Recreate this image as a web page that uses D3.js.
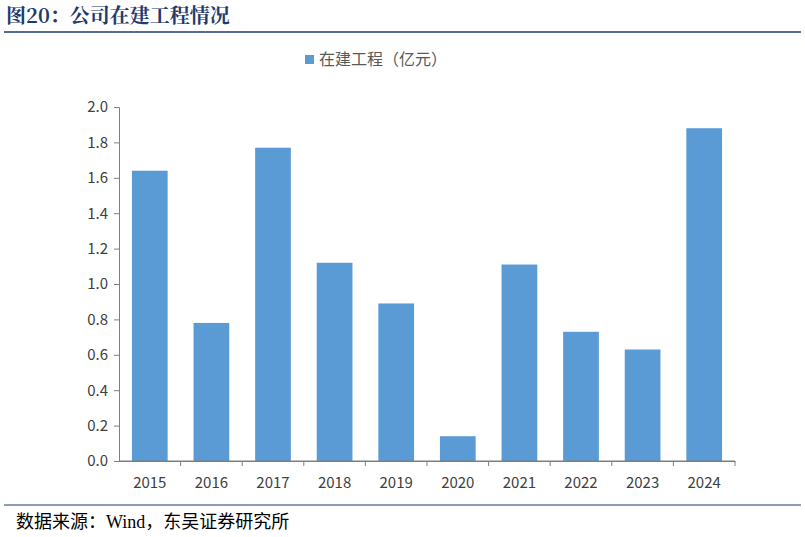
<!DOCTYPE html>
<html><head><meta charset="utf-8">
<script src="https://cdn.jsdelivr.net/npm/d3@7"></script>
<style>body{margin:0;background:#fff}</style>
</head><body>
<svg id="chart" width="805" height="537"></svg>
<script>
// data
var years = ["2015", "2016", "2017", "2018", "2019", "2020", "2021", "2022", "2023", "2024"];
var values = [1.64, 0.78, 1.77, 1.12, 0.89, 0.14, 1.11, 0.73, 0.63, 1.88];
var yTicks = [0, 0.2, 0.4, 0.6, 0.8, 1.0, 1.2, 1.4, 1.6, 1.8, 2.0];

var svg = d3.select("#chart");
var barColor = "#5b9bd5";
var font = "'Noto Sans CJK SC', 'Noto Sans', sans-serif";

// header and footer
svg.append("text").attr("x", 6).attr("y", 23)
    .attr("font-family", "'Noto Serif CJK SC', 'Noto Sans CJK SC', serif")
    .attr("font-size", 20).attr("font-weight", "bold").attr("fill", "#1f3b6e")
    .text("图20：公司在建工程情况");
svg.append("line").attr("x1", 4).attr("x2", 801).attr("y1", 32).attr("y2", 32)
    .attr("stroke", "#1f3b6e").attr("stroke-width", 1.5);
svg.append("line").attr("x1", 4).attr("x2", 801).attr("y1", 505).attr("y2", 505)
    .attr("stroke", "#1f3b6e").attr("stroke-width", 1);
svg.append("text").attr("x", 16).attr("y", 528)
    .attr("font-family", "'Liberation Serif', 'Noto Sans CJK SC', serif")
    .attr("font-size", 18).attr("fill", "#000")
    .text("数据来源：Wind，东吴证券研究所");

// legend
svg.append("rect").attr("x", 305).attr("y", 55).attr("width", 9).attr("height", 9).attr("fill", barColor);
svg.append("text").attr("x", 319).attr("y", 65).attr("font-family", font)
    .attr("font-size", 16).attr("fill", "#595959").text("在建工程（亿元）");

// scales
var x = d3.scaleBand().domain(years).range([119, 735]).paddingInner(0.42).paddingOuter(0.21);
var y = d3.scaleLinear().domain([0, 2]).range([461, 107]);

svg.selectAll("rect.bar").data(values).enter().append("rect")
    .attr("class", "bar")
    .attr("x", function (d, i) { return x(years[i]); })
    .attr("y", function (d) { return y(d); })
    .attr("width", x.bandwidth())
    .attr("height", function (d) { return y(0) - y(d); })
    .attr("fill", barColor);

var yAxis = svg.append("g").attr("transform", "translate(119,0)")
    .call(d3.axisLeft(y).tickValues(yTicks).tickFormat(d3.format(".1f")).tickSize(5).tickPadding(6));
var xAxis = svg.append("g").attr("transform", "translate(0,461)")
    .call(d3.axisBottom(x).tickSize(0).tickPadding(16));
xAxis.selectAll(".tick").append("line")
    .attr("x1", x.step() / 2).attr("x2", x.step() / 2).attr("y2", 5).attr("stroke", "#7f7f7f");
xAxis.append("line").attr("x1", 119).attr("x2", 735).attr("y1", 0).attr("y2", 0).attr("stroke", "#7f7f7f");

[yAxis, xAxis].forEach(function (g) {
    g.selectAll("path.domain, line").attr("stroke", "#7f7f7f");
    g.selectAll("text").attr("font-family", font).attr("font-size", 15).attr("fill", "#404040");
});
</script>
</body></html>
